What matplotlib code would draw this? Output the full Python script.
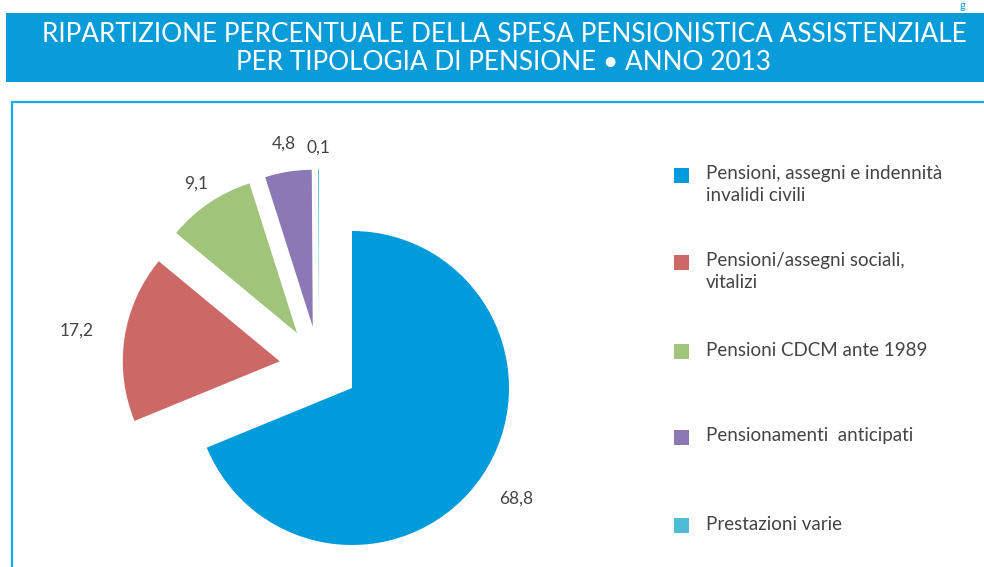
import numpy as np
import matplotlib.pyplot as plt
from matplotlib.patches import Rectangle

# dati
categorie = ['Pensioni, assegni e indennità\ninvalidi civili',
             'Pensioni/assegni sociali,\nvitalizi',
             'Pensioni CDCM ante 1989',
             'Pensionamenti  anticipati',
             'Prestazioni varie']
valori = [68.8, 17.2, 9.1, 4.8, 0.1]
etichette = ['68,8', '17,2', '9,1', '4,8', '0,1']

colori = ['#009BDA', '#CC6966', '#9FC47A', '#8B78B5', '#4FBCD6']
# spostamento delle fette (in raggi) e distanza etichette
spost = [(0, 0), (-0.46, 0.17), (-0.35, 0.35), (-0.25, 0.39), (-0.21, 0.39)]
dist_lab = [1.26, 1.31, 1.15, 1.18, 1.14]

FONT = 'Lato'
GRIGIO = '#444444'
W, H = 984, 567
R = 157.0
CX, CY = 352, 388

fig = plt.figure(figsize=(W / 100, H / 100), dpi=100)
ax = fig.add_axes([0, 0, 1, 1])

wedges, _ = ax.pie(valori, colors=colori, startangle=90, counterclock=False,
                   wedgeprops=dict(linewidth=0))
for w, s, lab, d in zip(wedges, spost, etichette, dist_lab):
    w.set_center(s)
    ang = np.deg2rad((w.theta1 + w.theta2) / 2)
    ax.text(s[0] + d * np.cos(ang), s[1] + d * np.sin(ang), lab,
            ha='center', va='center', fontsize=12.5, color=GRIGIO, family=FONT)

ax.set_xlim(-CX / R, (W - CX) / R)
ax.set_ylim((CY - H) / R, CY / R)
ax.set_aspect('equal')
ax.axis('off')

# cornice e banner (coordinate in pixel)
def px(x, y):
    return x / W, 1 - y / H

fig.patches.append(Rectangle(px(6, 82), (W - 6) / W, 69 / H, transform=fig.transFigure,
                             facecolor='#0A9BD9', edgecolor='none', zorder=0))
fig.patches.append(Rectangle(px(12, 600), 1.2, 498 / H, transform=fig.transFigure,
                             facecolor='none', edgecolor='#19A9E6', linewidth=1.6, zorder=0))

fig.text(*px(504, 34), 'RIPARTIZIONE PERCENTUALE DELLA SPESA PENSIONISTICA ASSISTENZIALE',
         ha='center', va='center', color='white', fontsize=18.8, family=FONT)
fig.text(*px(504, 63), 'PER TIPOLOGIA DI PENSIONE • ANNO 2013',
         ha='center', va='center', color='white', fontsize=18.8, family=FONT)
fig.text(*px(962, 0), 'g', ha='center', va='top', color='#0A9BD9', fontsize=8, family=FONT)

# legenda
leg_y = [175, 262, 351, 437, 525]
for cat, col, y in zip(categorie, colori, leg_y):
    fig.patches.append(Rectangle(px(674, y + 7.5), 15 / W, 15 / H, transform=fig.transFigure,
                                 facecolor=col, edgecolor='none'))
    fig.text(*px(706, y - 9.5), cat, ha='left', va='top', color=GRIGIO, fontsize=13.5,
             family=FONT, linespacing=1.35)

fig.savefig('out.png', dpi=100)
